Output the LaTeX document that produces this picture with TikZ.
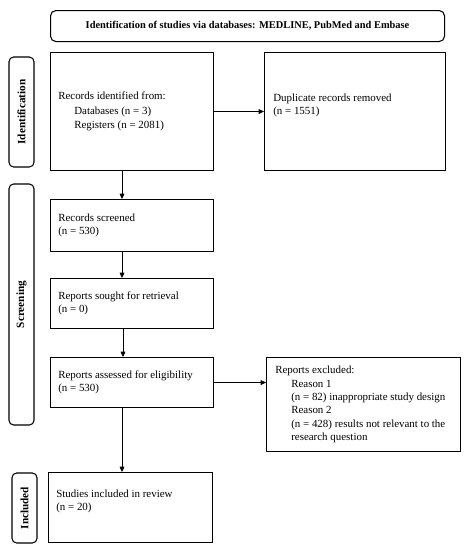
\documentclass[tikz,border=0pt]{standalone}
\usepackage{fontspec}
\setmainfont{Liberation Serif}
\usetikzlibrary{arrows.meta,calc}
\begin{document}
\begin{tikzpicture}[x=0.75pt,y=-0.75pt,
  txt/.style={font=\fontsize{8.2}{10}\selectfont,anchor=west,align=left,inner sep=0pt},
  box/.style={draw,line width=0.8pt,rectangle,anchor=north west,inner sep=0pt},
  head/.style={draw,line width=0.8pt,rounded corners=4pt,anchor=north west,align=center,
    font=\fontsize{7.8}{10}\bfseries,minimum width=295.5pt,minimum height=23.25pt},
  side/.style={draw,line width=0.8pt,rounded corners=3.5pt,rotate=90,anchor=center,
    font=\fontsize{8.4}{10}\bfseries,minimum height=18.75pt,inner sep=0pt},
  arr/.style={-{Triangle[length=4pt,width=3.6pt]},line width=0.5pt}]
\useasboundingbox (0,0) rectangle (467,550);

\node[head] (hd) at (50,10) {Identification of studies via databases: MEDLINE, PubMed and Embase};

\node[side,minimum width=82.5pt] (sid) at (21.5,112) {Identification};
\node[side,minimum width=180.75pt] (ssc) at (21.5,304.5) {Screening};
\node[side,minimum width=52.5pt] (sin) at (24.5,508) {Included};

\node[box,minimum width=122.25pt,minimum height=88.5pt] (b1) at (50,52) {};
\node[box,minimum width=135.75pt,minimum height=88.5pt] (b2) at (264,52) {};
\node[box,minimum width=122.25pt,minimum height=39pt] (b3) at (50,199) {};
\node[box,minimum width=122.25pt,minimum height=37.5pt] (b4) at (50,278) {};
\node[box,minimum width=122.25pt,minimum height=37.5pt] (b5) at (50,357) {};
\node[box,minimum width=145.5pt,minimum height=70.5pt] (b6) at (266,357) {};
\node[box,minimum width=123pt,minimum height=52.5pt] (b7) at (48,472) {};

\node[txt] (t1) at ($(b1.west)+(8,0)$)
  {Records identified from:\\[1pt]\hspace*{12pt}Databases (n = 3)\\[1pt]\hspace*{12pt}Registers (n = 2081)};
\node[txt] (t2) at ($(b2.west)+(9,-6)$) {Duplicate records removed\\(n = 1551)};
\node[txt] (t3) at ($(b3.west)+(8,0)$) {Records screened\\(n = 530)};
\node[txt] (t4) at ($(b4.west)+(8,0)$) {Reports sought for retrieval\\(n = 0)};
\node[txt] (t5) at ($(b5.west)+(8,0)$) {Reports assessed for eligibility\\(n = 530)};
\node[txt] (t6) at ($(b6.west)+(9,0)$)
  {Reports excluded:\\\hspace*{12pt}Reason 1\\\hspace*{12pt}(n = 82) inappropriate study design\\\hspace*{12pt}Reason 2\\\hspace*{12pt}(n = 428) results not relevant to the\\\hspace*{12pt}research question};
\node[txt] (t7) at ($(b7.west)+(8,-6)$) {Studies included in review\\(n = 20)};

\draw[arr] (b1.east) -- (b2.west);
\draw[arr] ($(b1.south west)+(72,0)$) -- ($(b3.north west)+(72,0)$);
\draw[arr] ($(b3.south west)+(72,0)$) -- ($(b4.north west)+(72,0)$);
\draw[arr] ($(b4.south west)+(73,0)$) -- ($(b5.north west)+(73,0)$);
\draw[arr] (b5.east) -- (b5.east -| b6.west);
\draw[arr] ($(b5.south west)+(72,0)$) -- ($(b7.north west)+(74,0)$);
\end{tikzpicture}
\end{document}
